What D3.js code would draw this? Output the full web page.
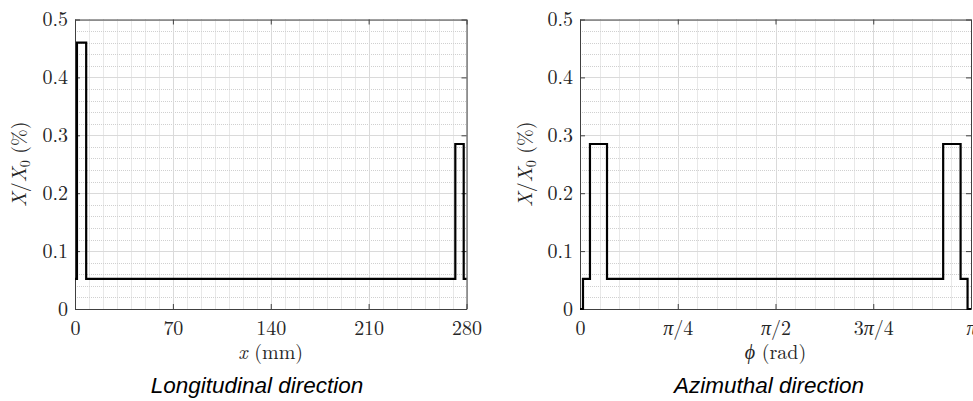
<!DOCTYPE html>
<html><head><meta charset="utf-8">
<script src="https://cdn.jsdelivr.net/npm/d3@7"></script>
<style>
html,body{margin:0;padding:0;background:#fff;}
svg{display:block;}
</style></head>
<body>
<svg id="chart" width="973" height="401"></svg>
<script>
// ---- data ----
const yTicks = [0, 0.1, 0.2, 0.3, 0.4, 0.5];
const yTickLabels = ["0", "0.1", "0.2", "0.3", "0.4", "0.5"];

const longTicks = [0, 70, 140, 210, 280];
const longTickLabels = ["0", "70", "140", "210", "280"];
const longEdges = [0, 1.4, 8, 272, 278, 280];
const longValues = [0.052, 0.46, 0.052, 0.285, 0.052];

const aziTicks = [0, Math.PI/4, Math.PI/2, 3*Math.PI/4, Math.PI];
const aziTickLabels = ["0", "π/4", "π/2", "3π/4", "π"];
const aziEdges = [0, 0.024, 0.08, 0.217, 2.918, 3.058, 3.114, Math.PI];
const aziValues = [0, 0.052, 0.285, 0.052, 0.285, 0.052, 0];

const titles = ["Longitudinal direction", "Azimuthal direction"];

// ---- layout ----
const svg = d3.select("#chart");
const serif = "'Latin Modern Roman','CMU Serif','Liberation Serif',serif";
const plotTop = 19.5, plotBottom = 309;

const panels = [
  {x0: 75, x1: 466.5, domain: [0, 280], ticks: longTicks, labels: longTickLabels,
   minorStep: 10, edges: longEdges, values: longValues, xlabel: "x", unit: " (mm)",
   title: titles[0], titleX: 257, ylabX: 26},
  {x0: 580, x1: 971, domain: [0, Math.PI], ticks: aziTicks, labels: aziTickLabels,
   minorStep: Math.PI/20, edges: aziEdges, values: aziValues, xlabel: "\u03D5", unit: " (rad)",
   title: titles[1], titleX: 769, ylabX: 532}
];

const y = d3.scaleLinear().domain([0, 0.5]).range([plotBottom, plotTop]);

panels.forEach(p => {
  const x = d3.scaleLinear().domain(p.domain).range([p.x0, p.x1]);
  const g = svg.append("g");

  // minor grid
  const xMinor = d3.range(0, p.domain[1] + 1e-9, p.minorStep).filter(v => !p.ticks.some(t => Math.abs(t - v) < 1e-6));
  const yMinor = d3.range(0, 0.5 + 1e-9, 0.02).filter(v => !yTicks.some(t => Math.abs(t - v) < 1e-6));
  g.selectAll(".mx").data(xMinor).join("line")
    .attr("x1", d => Math.round(x(d)) + 0.5).attr("x2", d => Math.round(x(d)) + 0.5)
    .attr("y1", plotTop).attr("y2", plotBottom)
    .attr("stroke", "#d0d0d0").attr("stroke-width", 1).attr("stroke-dasharray", "1,1");
  g.selectAll(".my").data(yMinor).join("line")
    .attr("y1", d => Math.round(y(d)) + 0.5).attr("y2", d => Math.round(y(d)) + 0.5)
    .attr("x1", p.x0).attr("x2", p.x1)
    .attr("stroke", "#d0d0d0").attr("stroke-width", 1).attr("stroke-dasharray", "1,1");
  // major grid
  g.selectAll(".gx").data(p.ticks).join("line")
    .attr("x1", d => Math.round(x(d)) + 0.5).attr("x2", d => Math.round(x(d)) + 0.5)
    .attr("y1", plotTop).attr("y2", plotBottom)
    .attr("stroke", "#dadada").attr("stroke-width", 1);
  g.selectAll(".gy").data(yTicks).join("line")
    .attr("y1", d => Math.round(y(d)) + 0.5).attr("y2", d => Math.round(y(d)) + 0.5)
    .attr("x1", p.x0).attr("x2", p.x1)
    .attr("stroke", "#dadada").attr("stroke-width", 1);

  // axes (ticks inward)
  const fmtX = (d, i) => p.labels[i];
  const fmtY = (d, i) => yTickLabels[i];
  const axB = g.append("g").attr("transform", `translate(0,${plotBottom})`)
    .call(d3.axisBottom(x).tickValues(p.ticks).tickFormat(fmtX).tickSizeInner(-5).tickSizeOuter(0).tickPadding(12));
  const axT = g.append("g").attr("transform", `translate(0,${plotTop})`)
    .call(d3.axisTop(x).tickValues(p.ticks).tickFormat("").tickSizeInner(-5).tickSizeOuter(0));
  const axL = g.append("g").attr("transform", `translate(${p.x0},0)`)
    .call(d3.axisLeft(y).tickValues(yTicks).tickFormat(fmtY).tickSizeInner(-5).tickSizeOuter(0).tickPadding(7));
  const axR = g.append("g").attr("transform", `translate(${p.x1},0)`)
    .call(d3.axisRight(y).tickValues(yTicks).tickFormat("").tickSizeInner(-5).tickSizeOuter(0));
  [axB, axT, axL, axR].forEach(a => {
    a.select(".domain").attr("stroke", "#404040").attr("stroke-width", 1);
    a.selectAll(".tick line").attr("stroke", "#404040");
    a.selectAll("text").attr("font-family", serif).attr("font-size", 20).attr("fill", "#262626");
  });
  axL.selectAll("text").attr("dy", "0.3em");
  // italic π inside tick labels (math style)
  axB.selectAll(".tick text").each(function() {
    const t = d3.select(this);
    const s = t.text();
    if (!s.includes("π")) return;
    t.text(null);
    s.split(/(π)/).filter(part => part.length).forEach(part => {
      t.append("tspan").attr("font-style", part === "π" ? "italic" : null).text(part);
    });
  });

  // data step line
  const pts = p.edges.map((e, i) => [e, p.values[Math.min(i, p.values.length - 1)]]);
  g.append("path")
    .attr("d", d3.line().x(d => x(d[0])).y(d => y(d[1])).curve(d3.curveStepAfter)(pts))
    .attr("fill", "none").attr("stroke", "#000").attr("stroke-width", 2.2)
    .attr("stroke-linejoin", "miter");

  // x label
  const xl = g.append("text").attr("x", (p.x0 + p.x1) / 2).attr("y", 359)
    .attr("text-anchor", "middle").attr("font-family", serif).attr("font-size", 20).attr("fill", "#262626");
  xl.append("tspan").attr("font-style", "italic").text(p.xlabel);
  xl.append("tspan").text(p.unit);

  // y label
  const yl = g.append("text").attr("transform", `translate(${p.ylabX},${(plotTop + plotBottom) / 2}) rotate(-90)`)
    .attr("text-anchor", "middle").attr("font-family", serif).attr("font-size", 20).attr("fill", "#262626");
  yl.append("tspan").attr("font-style", "italic").text("X");
  yl.append("tspan").text("/");
  yl.append("tspan").attr("font-style", "italic").text("X");
  yl.append("tspan").attr("font-size", 14).attr("dy", 4).text("0");
  yl.append("tspan").attr("dy", -4).text(" (%)");

  // title
  g.append("text").attr("x", p.titleX).attr("y", 393).attr("text-anchor", "middle")
    .attr("font-family", "'Liberation Sans',Arial,sans-serif").attr("font-style", "italic")
    .attr("font-size", 22.5).attr("fill", "#000").text(p.title);
});
</script>
</body></html>
